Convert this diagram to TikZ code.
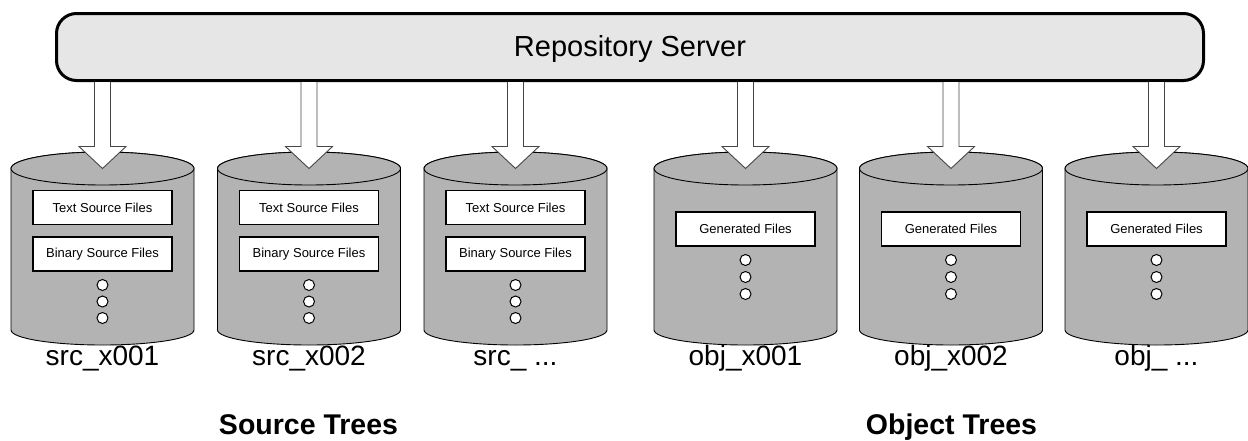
\documentclass[tikz,border=0pt]{standalone}
\usepackage{fontspec}
\setmainfont{Liberation Sans}
\usetikzlibrary{calc}

\definecolor{serverfill}{RGB}{230,230,230}
\definecolor{diskfill}{RGB}{179,179,179}
\definecolor{arrowline}{RGB}{70,70,70}

\tikzset{
  server/.style={draw=black, line width=3pt, fill=serverfill, rounded corners=20pt,
    minimum width=1147pt, minimum height=67pt, inner sep=0pt,
    font=\fontsize{29}{34}\selectfont},
  disk/.style={draw=black, line width=0.9pt, fill=diskfill},
  filebox/.style={draw=black, line width=1.6pt, fill=white, minimum width=139pt,
    minimum height=34pt, inner sep=0pt, font=\fontsize{13}{15}\selectfont},
  dot/.style={circle, draw=black, line width=1pt, fill=white, minimum size=11pt, inner sep=0pt},
  disklabel/.style={anchor=base, inner sep=0pt, font=\fontsize{28}{32}\selectfont},
  grouplabel/.style={anchor=base, inner sep=0pt, font=\fontsize{28.5}{32}\selectfont\bfseries},
  fatarrow/.style={draw=arrowline, line width=0.9pt, fill=white, line join=miter}
}

% one disk drum centred at x = #1 (y grows downwards; half-ellipses as Bezier curves)
\newcommand{\drum}[2]{%
  \path[disk] (#1-91.5,168.5) -- (#1-91.5,330)
     .. controls (#1-91.5,338.3) and (#1-50.5,345) .. (#1,345)
     .. controls (#1+50.5,345) and (#1+91.5,338.3) .. (#1+91.5,330)
     -- (#1+91.5,168.5)
     .. controls (#1+91.5,159.4) and (#1+50.5,152) .. (#1,152)
     .. controls (#1-50.5,152) and (#1-91.5,159.4) .. (#1-91.5,168.5) -- cycle;
  \path[disk] (#1,168.5) ellipse [x radius=91.5, y radius=16.5];
  \coordinate (#2) at (#1,168.5);
}

% block arrow from the server down to the top of a drum
\newcommand{\feed}[1]{%
  \draw[fatarrow] let \p1=(server.south -| #1), \p2=(#1) in
    (\x1-8pt,\y1) -- (\x1-8pt,\y2+22pt) -- (\x1-23.5pt,\y2+22pt) -- (\x2,\y2)
    -- (\x1+23.5pt,\y2+22pt) -- (\x1+8pt,\y2+22pt) -- (\x1+8pt,\y1);
}

\begin{document}
\begin{tikzpicture}[x=1pt,y=-1pt]
  \useasboundingbox (0,0) rectangle (1248,440);

  \node[server] (server) at (630,47) {};
  \node[anchor=base, inner sep=0pt, font=\fontsize{29}{34}\selectfont] (servertext) at (630,56) {Repository Server};

  % drums
  \drum{102.5}{s1}
  \drum{309}{s2}
  \drum{515.5}{s3}
  \drum{745.5}{o1}
  \drum{951}{o2}
  \drum{1156.5}{o3}

  % arrows from the server
  \feed{s1}
  \feed{s2}
  \feed{s3}
  \feed{o1}
  \feed{o2}
  \feed{o3}

  % source tree contents
  \foreach \cx/\n in {102.5/1, 309/2, 515.5/3} {
    \node[filebox] (txt\n) at (\cx,207.5) {Text Source Files};
    \node[filebox] (bin\n) at (\cx,254) {Binary Source Files};
    \node[dot] (sa\n) at (\cx,285) {};
    \node[dot] (sb\n) at (\cx,301.5) {};
    \node[dot] (sc\n) at (\cx,318) {};
  }

  % object tree contents
  \foreach \cx/\n in {745.5/1, 951/2, 1156.5/3} {
    \node[filebox] (gen\n) at (\cx,229) {Generated Files};
    \node[dot] (oa\n) at (\cx,260) {};
    \node[dot] (ob\n) at (\cx,277) {};
    \node[dot] (oc\n) at (\cx,294) {};
  }

  % drum names
  \node[disklabel] (ls1) at (102.5,365) {src\_x001};
  \node[disklabel] (ls2) at (309,365) {src\_x002};
  \node[disklabel] (ls3) at (515.5,365) {src\_ ...};
  \node[disklabel] (lo1) at (745.5,365) {obj\_x001};
  \node[disklabel] (lo2) at (951,365) {obj\_x002};
  \node[disklabel] (lo3) at (1156.5,365) {obj\_ ...};

  % group names
  \node[grouplabel] (srcgroup) at (308.5,434) {Source Trees};
  \node[grouplabel] (objgroup) at (951.5,434) {Object Trees};
\end{tikzpicture}
\end{document}
